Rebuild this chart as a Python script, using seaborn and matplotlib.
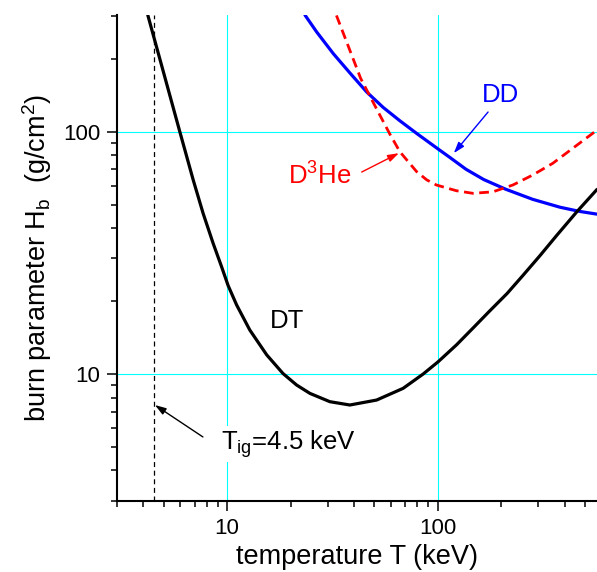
import matplotlib
matplotlib.use("Agg")
import matplotlib.pyplot as plt
import seaborn as sns
import pandas as pd

# Burn parameter H_b (g/cm^2) versus temperature T (keV) for three fusion fuels
dt_T = [4.20, 5.96, 6.90, 7.69, 8.58, 9.41, 10.1, 11.08, 12.8, 15.4, 18.4, 21.35,
        24.7, 30.7, 38.2, 51.2, 68.4, 85.1, 100.3, 122.6, 147, 176, 213, 254,
        305, 366, 457, 569]
dt_H = [303, 100, 63.2, 46.0, 34.6, 27.7, 23.2, 19.3, 15.2, 12.0, 10.05, 9.01,
        8.32, 7.69, 7.45, 7.81, 8.73, 10.0, 11.24, 13.2, 15.5, 18.2, 21.5, 25.6,
        30.8, 37.3, 46.8, 57.8]

dd_T = [23.4, 26.6, 31.9, 38.2, 45.9, 55.0, 66.0, 79.2, 100, 113.6, 136, 165,
        211, 282, 380, 471, 569]
dd_H = [303, 258, 210, 175, 146, 126, 111, 98.5, 85, 78.5, 70, 63.5,
        57.8, 52.6, 48.8, 46.9, 45.7]

d3he_T = [33.0, 38.2, 43.0, 52.0, 59.2, 66.0, 79.2, 88.5, 98.3, 122.3, 146.6,
          182.4, 227, 282, 351, 437, 569]
d3he_H = [302, 217, 166, 121, 97.7, 82.7, 68.5, 63.3, 60.3, 57.1, 55.7,
          56.5, 60.3, 66.3, 74.1, 85.5, 101.6]

T_ignition = 4.5

sns.set_theme(style="ticks")
plt.rcParams["font.family"] = ["Liberation Sans", "DejaVu Sans"]
plt.rcParams["mathtext.fontset"] = "custom"
plt.rcParams["mathtext.rm"] = "Liberation Sans"
plt.rcParams["mathtext.it"] = "Liberation Sans:italic"
plt.rcParams["lines.scale_dashes"] = False
plt.rcParams["lines.solid_joinstyle"] = "round"
plt.rcParams["lines.dash_joinstyle"] = "round"
for key in ("text.color", "axes.labelcolor", "xtick.color", "ytick.color",
            "axes.edgecolor"):
    plt.rcParams[key] = "black"

df_dt = pd.DataFrame({"T": dt_T, "H": dt_H})
df_dd = pd.DataFrame({"T": dd_T, "H": dd_H})
df_he = pd.DataFrame({"T": d3he_T, "H": d3he_H})

fig = plt.figure(figsize=(5.97, 5.72), dpi=100)
ax = fig.add_axes([0.196, 0.1246, 0.804, 0.849])
ax.set_xscale("log")
ax.set_yscale("log")
ax.set_xlim(3, 569)
ax.set_ylim(3, 303)

# grid at the decades only
for v in (10, 100):
    ax.axvline(v, color="#00ffff", lw=0.8, zorder=0)
    ax.axhline(v, color="#00ffff", lw=0.8, zorder=0)

# ignition temperature marker
ax.axvline(T_ignition, color="black", lw=0.9, dashes=(3.6, 2.6), zorder=1)

sns.lineplot(data=df_dd, x="T", y="H", ax=ax, color="#0000ff", lw=2.3,
             estimator=None, sort=False, zorder=2)
sns.lineplot(data=df_he, x="T", y="H", ax=ax, color="#ff0000", lw=2.0,
             estimator=None, sort=False, zorder=3)
ax.lines[-1].set_dashes((7.0, 4.0))
sns.lineplot(data=df_dt, x="T", y="H", ax=ax, color="black", lw=2.3,
             estimator=None, sort=False, zorder=4)

lab_fs = 18.5
ax.text(16.0, 15.5, "DT", fontsize=lab_fs, ha="left", va="baseline")
ax.text(162, 132.6, "DD", fontsize=lab_fs, color="#0000ff", ha="left", va="baseline")
ax.text(19.4, 60.3, "D$^{3}$He", fontsize=lab_fs, color="#ff0000", ha="left", va="baseline")
ax.text(9.33, 4.86, r"T$_{\mathrm{ig}}$=4.5 keV", fontsize=lab_fs, ha="left", va="baseline",
        bbox=dict(facecolor="white", edgecolor="none", pad=1.5), zorder=5)

arrow = dict(arrowstyle="-|>,head_length=0.55,head_width=0.18", lw=1.0,
             shrinkA=0, shrinkB=0)
ax.annotate("", xy=(119, 81.6), xytext=(173, 120.6),
            arrowprops=dict(arrow, color="#0000ff"))
ax.annotate("", xy=(65.3, 81.6), xytext=(43.5, 68.2),
            arrowprops=dict(arrow, color="#ff0000"))
ax.annotate("", xy=(4.54, 7.45), xytext=(7.67, 5.5),
            arrowprops=dict(arrow, color="black"))

ax.set_xticks([10, 100])
ax.set_xticklabels(["10", "100"])
ax.set_yticks([10, 100])
ax.set_yticklabels(["10", "100"])
ax.tick_params(which="major", length=7.2, width=1.1, direction="out",
               labelsize=16, pad=5, colors="black")
ax.tick_params(which="minor", length=4.5, width=1.1, direction="out", colors="black")

ax.set_xlabel("temperature T (keV)", fontsize=19.5, labelpad=4)
ax.set_ylabel(r"burn parameter H$_{\mathrm{b}}$  (g/cm$^{2}$)", fontsize=19.5, labelpad=6)

for side in ("top", "right"):
    ax.spines[side].set_visible(False)
for side in ("left", "bottom"):
    ax.spines[side].set_linewidth(1.5)
    ax.spines[side].set_color("black")
ax.set_facecolor("white")

fig.savefig("out.png", dpi=100, facecolor="white")
